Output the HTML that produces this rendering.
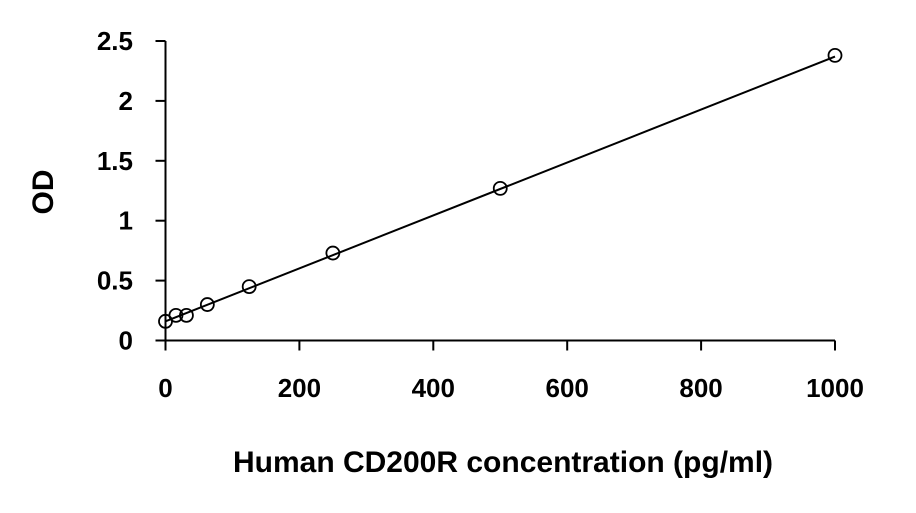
<!DOCTYPE html>
<html><head><meta charset="utf-8"><style>
body{margin:0;background:#fff}
text{font-family:"Liberation Sans",Arial,sans-serif;font-weight:bold;fill:#000}
</style></head><body>
<svg width="916" height="508">
<g id="chart"></g>
</svg>
<script>
const concentrations=[0,15.6,31.25,62.5,125,250,500,1000];
const odValues=[0.16,0.21,0.21,0.30,0.45,0.73,1.27,2.38];
const xTicks=[0,200,400,600,800,1000];
const yTicks=[0,0.5,1,1.5,2,2.5];
const yTickLabels=["0","0.5","1","1.5","2","2.5"];
const fitLine=[0.16,2.37];
const NS="http://www.w3.org/2000/svg";
const x0=165.5,x1=835,y0=340.5,y1=41;
const sx=v=>x0+(v/1000)*(x1-x0);
const sy=v=>y0-(v/2.5)*(y0-y1);
const g=document.getElementById('chart');
function mk(t,a){const e=document.createElementNS(NS,t);for(const k in a)e.setAttribute(k,a[k]);g.appendChild(e);return e;}
let e;
e=mk('line',{x1:x0,y1:y1,x2:x0,y2:y0,stroke:'#000','stroke-width':2});


e=mk('line',{x1:x0,y1:y0,x2:x1,y2:y0,stroke:'#000','stroke-width':2});


yTicks.forEach((v,i)=>{
 e=mk('line',{x1:x0-10,x2:x0,y1:sy(v),y2:sy(v),stroke:'#000','stroke-width':2});
 
 
 e=mk('text',{x:133,y:sy(v)+9,'text-anchor':'end','font-size':26});
 e.textContent=yTickLabels[i];
 
 
});
xTicks.forEach(v=>{
 e=mk('line',{x1:sx(v),x2:sx(v),y1:y0,y2:y0+10,stroke:'#000','stroke-width':2});
 
 
 e=mk('text',{x:sx(v),y:397,'text-anchor':'middle','font-size':26});
 e.textContent=String(v);
 
 
});
e=mk('line',{x1:sx(0),y1:sy(fitLine[0]),x2:sx(1000),y2:sy(fitLine[1]),stroke:'#000','stroke-width':2});


concentrations.forEach((c,i)=>{
 e=mk('circle',{cx:sx(c),cy:sy(odValues[i]),r:6.5,fill:'none',stroke:'#000','stroke-width':1.8});
 
 
});
e=mk('text',{x:503,y:472,'text-anchor':'middle','font-size':30});
e.textContent='Human CD200R concentration (pg/ml)';


e=mk('text',{x:0,y:0,'text-anchor':'middle','font-size':30,transform:'translate(53,192) rotate(-90)'});
e.textContent='OD';


</script>
</body></html>
